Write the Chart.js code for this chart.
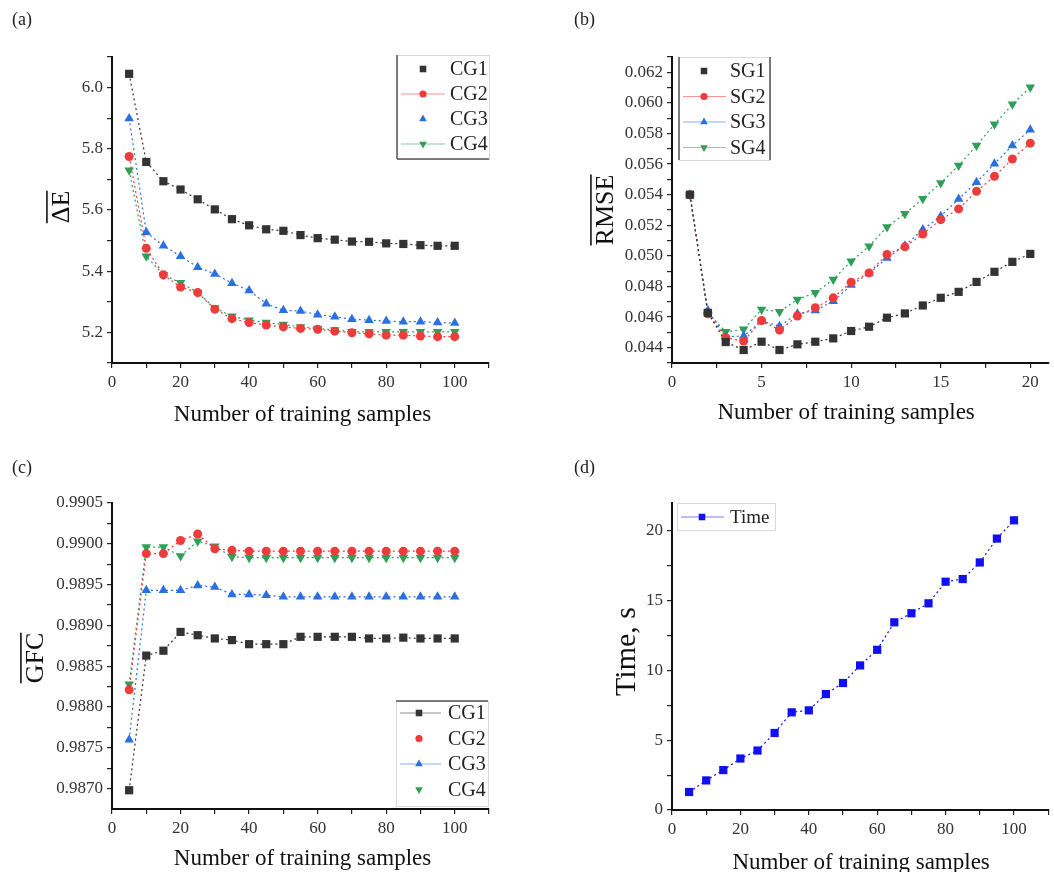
<!DOCTYPE html>
<html>
<head>
<meta charset="utf-8">
<script src="https://cdn.jsdelivr.net/npm/chart.js@4.4.1/dist/chart.umd.min.js"></script>
<style>
html, body { margin: 0; padding: 0; background: #fff; }
#wrap { position: relative; width: 1054px; height: 872px; overflow: hidden; }
.panel { position: absolute; width: 527px; height: 436px; }
</style>
</head>
<body>
<div id="wrap">
  <div class="panel" style="left:0;top:0"><canvas id="chartA" width="527" height="436"></canvas></div>
  <div class="panel" style="left:527px;top:0"><canvas id="chartB" width="527" height="436"></canvas></div>
  <div class="panel" style="left:0;top:436px"><canvas id="chartC" width="527" height="436"></canvas></div>
  <div class="panel" style="left:527px;top:436px"><canvas id="chartD" width="527" height="436"></canvas></div>
</div>
<script>
// ---- data ----
const samples = [5, 10, 15, 20, 25, 30, 35, 40, 45, 50, 55, 60, 65, 70, 75, 80, 85, 90, 95, 100];
const sgSamples = [1, 2, 3, 4, 5, 6, 7, 8, 9, 10, 11, 12, 13, 14, 15, 16, 17, 18, 19, 20];

const cg1DeltaE = [6.045, 5.757, 5.694, 5.667, 5.635, 5.602, 5.570, 5.550, 5.537, 5.532, 5.518, 5.508, 5.503, 5.497, 5.496, 5.491, 5.489, 5.485, 5.483, 5.483];
const cg2DeltaE = [5.775, 5.475, 5.388, 5.348, 5.330, 5.276, 5.245, 5.232, 5.224, 5.218, 5.213, 5.210, 5.204, 5.199, 5.195, 5.191, 5.191, 5.188, 5.186, 5.186];
const cg3DeltaE = [5.899, 5.527, 5.483, 5.449, 5.413, 5.391, 5.361, 5.337, 5.294, 5.272, 5.270, 5.258, 5.251, 5.243, 5.240, 5.237, 5.235, 5.235, 5.232, 5.231];
const cg4DeltaE = [5.730, 5.449, 5.388, 5.362, 5.330, 5.280, 5.253, 5.240, 5.232, 5.226, 5.218, 5.213, 5.208, 5.202, 5.202, 5.202, 5.202, 5.202, 5.202, 5.202];

const sg1Rmse = [0.0540, 0.04628, 0.04437, 0.04385, 0.04439, 0.04385, 0.04422, 0.04439, 0.04461, 0.04509, 0.04537, 0.04596, 0.04624, 0.04676, 0.04726, 0.04765, 0.04830, 0.04896, 0.04961, 0.05013];
const sg2Rmse = [0.0540, 0.04622, 0.04465, 0.04443, 0.04578, 0.04515, 0.04607, 0.04661, 0.04726, 0.04828, 0.04889, 0.05009, 0.05059, 0.05143, 0.05237, 0.05307, 0.05422, 0.05520, 0.05633, 0.05737];
const sg3Rmse = [0.0540, 0.04643, 0.04472, 0.04476, 0.04574, 0.04541, 0.04622, 0.04643, 0.04704, 0.04809, 0.04885, 0.04987, 0.05067, 0.05172, 0.05259, 0.05372, 0.05481, 0.05602, 0.05722, 0.05824];
const sg4Rmse = [0.0540, 0.04628, 0.04504, 0.04520, 0.04650, 0.04635, 0.04715, 0.04759, 0.04846, 0.04965, 0.05063, 0.05189, 0.05276, 0.05374, 0.05476, 0.05591, 0.05722, 0.05861, 0.05991, 0.06102];

const cg1Gfc = [0.98698, 0.98863, 0.98869, 0.98892, 0.98888, 0.98884, 0.98882, 0.98877, 0.98877, 0.98877, 0.98886, 0.98886, 0.98886, 0.98886, 0.98884, 0.98884, 0.98885, 0.98884, 0.98884, 0.98884];
const cg2Gfc = [0.98821, 0.98988, 0.98988, 0.99004, 0.99012, 0.98994, 0.98992, 0.98991, 0.98991, 0.98991, 0.98991, 0.98991, 0.98991, 0.98991, 0.98991, 0.98991, 0.98991, 0.98991, 0.98991, 0.98991];
const cg3Gfc = [0.98760, 0.98943, 0.98943, 0.98943, 0.98949, 0.98947, 0.98938, 0.98938, 0.98937, 0.98935, 0.98935, 0.98935, 0.98935, 0.98935, 0.98935, 0.98935, 0.98935, 0.98935, 0.98935, 0.98935];
const cg4Gfc = [0.98828, 0.98996, 0.98996, 0.98985, 0.99003, 0.98997, 0.98984, 0.98983, 0.98983, 0.98983, 0.98983, 0.98983, 0.98983, 0.98983, 0.98983, 0.98983, 0.98983, 0.98983, 0.98983, 0.98983];

const timeSeconds = [1.29, 2.12, 2.86, 3.69, 4.26, 5.52, 7.00, 7.14, 8.31, 9.10, 10.36, 11.48, 13.45, 14.10, 14.81, 16.36, 16.55, 17.74, 19.45, 20.76];

// tick values (major = labelled, minor = unlabelled)
const xMajor100 = [0, 20, 40, 60, 80, 100];
const xMinor100 = [10, 30, 50, 70, 90, 110];
const xMajor20 = [0, 5, 10, 15, 20];
const xMinor20 = [2.5, 7.5, 12.5, 17.5];
const deltaEMajor = [5.2, 5.4, 5.6, 5.8, 6.0];
const deltaEMinor = [5.1, 5.3, 5.5, 5.7, 5.9, 6.1];
const rmseMajor = [0.044, 0.046, 0.048, 0.050, 0.052, 0.054, 0.056, 0.058, 0.060, 0.062];
const rmseMinor = [0.043, 0.045, 0.047, 0.049, 0.051, 0.053, 0.055, 0.057, 0.059, 0.061, 0.063];
const gfcMajor = [0.9870, 0.9875, 0.9880, 0.9885, 0.9890, 0.9895, 0.9900, 0.9905];
const gfcMinor = [0.98725, 0.98775, 0.98825, 0.98875, 0.98925, 0.98975, 0.99025];
const timeMajor = [0, 5, 10, 15, 20];
const timeMinor = [2.5, 7.5, 12.5, 17.5];

const XTITLE = "Number of training samples";
const SERIF = "'Liberation Serif', 'DejaVu Serif', serif";

const BLACK = "#333333";
const RED = "#ee3b3b";
const BLUE = "#2b70e0";
const GREEN = "#2e9e58";
const PURE_BLUE = "#1010f0";

function pts(xs, ys) {
    return xs.map((x, i) => ({ x: x, y: ys[i] }));
}

function series(label, xs, ys, color, style, legendLine) {
    const tri = style === "down" || style === "up";
    return {
        label: label,
        data: pts(xs, ys),
        borderColor: color,
        backgroundColor: color,
        borderWidth: 1.2,
        borderDash: [2, 3],
        pointStyle: style === "square" ? "rect" : (tri ? "triangle" : "circle"),
        rotation: style === "down" ? 180 : 0,
        pointRadius: style === "square" ? 5.8 : (tri ? 5.5 : 4.5),
        pointBorderWidth: 0,
        legendLine: legendLine,
        clip: false
    };
}

function near(list, v) {
    return list.some(t => Math.abs(t - v) < 1e-9);
}

function axis(min, max, major, minor, digits, size) {
    const all = major.concat(minor).sort((a, b) => a - b);
    return {
        type: "linear",
        min: min,
        max: max,
        afterBuildTicks: s => { s.ticks = all.map(v => ({ value: v })); },
        afterFit: s => {
            if (s.isHorizontal()) s.height = size; else s.width = size;
        },
        ticks: {
            autoSkip: false,
            maxRotation: 0,
            padding: 4,
            color: "#333",
            font: { family: SERIF, size: 17 },
            callback: v => near(major, v) ? v.toFixed(digits) : ""
        },
        grid: {
            drawOnChartArea: false,
            drawTicks: true,
            tickLength: 5,
            color: "#222",
            lineWidth: 1.2
        },
        border: { display: true, color: "#111", width: 2 }
    };
}

// draws panel letter, axis titles (with overline) and legend
const decor = {
    id: "decor",
    afterDraw(chart) {
        const o = chart.options.plugins.decor;
        const ctx = chart.ctx;
        const area = chart.chartArea;
        ctx.save();
        ctx.fillStyle = "#222";
        ctx.font = "18px " + SERIF;
        ctx.textBaseline = "middle";
        ctx.textAlign = "left";
        ctx.fillText(o.tag, o.tagX, o.tagY);

        // x title
        ctx.font = "23px " + SERIF;
        ctx.textAlign = "center";
        ctx.fillStyle = "#111";
        ctx.fillText(XTITLE, (area.left + area.right) / 2 + o.xTitleDx, o.xTitleY);

        // y title
        ctx.save();
        ctx.translate(o.yTitleX, (area.top + area.bottom) / 2 + o.yTitleDy);
        ctx.rotate(-Math.PI / 2);
        ctx.font = o.yFont + "px " + SERIF;
        ctx.fillText(o.yTitle, 0, 0);
        if (o.overline) {
            const w = ctx.measureText(o.yTitle).width;
            ctx.strokeStyle = "#111";
            ctx.lineWidth = 1.6;
            ctx.beginPath();
            ctx.moveTo(-w / 2, -o.yFont * 0.58);
            ctx.lineTo(w / 2, -o.yFont * 0.58);
            ctx.stroke();
        }
        ctx.restore();

        // legend
        const lg = o.legend;
        ctx.fillStyle = "#fff";
        ctx.fillRect(lg.x, lg.y, lg.w, lg.h);
        ctx.strokeStyle = "#d8d8d8";
        ctx.lineWidth = 1;
        ctx.strokeRect(lg.x + 0.5, lg.y + 0.5, lg.w, lg.h);
        ctx.strokeStyle = "#555";
        ctx.lineWidth = 1.5;
        ctx.beginPath();
        lg.dark.forEach(side => {
            if (side === "left") { ctx.moveTo(lg.x, lg.y); ctx.lineTo(lg.x, lg.y + lg.h); }
            if (side === "right") { ctx.moveTo(lg.x + lg.w, lg.y); ctx.lineTo(lg.x + lg.w, lg.y + lg.h); }
            if (side === "top") { ctx.moveTo(lg.x, lg.y); ctx.lineTo(lg.x + lg.w, lg.y); }
            if (side === "bottom") { ctx.moveTo(lg.x, lg.y + lg.h); ctx.lineTo(lg.x + lg.w, lg.y + lg.h); }
        });
        ctx.stroke();

        chart.data.datasets.forEach((ds, i) => {
            const y = lg.y + lg.first + i * lg.gap;
            if (ds.legendLine) {
                ctx.strokeStyle = ds.borderColor;
                ctx.globalAlpha = 0.55;
                ctx.lineWidth = 1.2;
                ctx.beginPath();
                ctx.moveTo(lg.x + 4, y);
                ctx.lineTo(lg.markX + 22, y);
                ctx.stroke();
                ctx.globalAlpha = 1;
            }
            ctx.fillStyle = ds.backgroundColor;
            ctx.strokeStyle = ds.backgroundColor;
            Chart.helpers.drawPoint(ctx, {
                pointStyle: ds.pointStyle,
                rotation: ds.rotation,
                radius: ds.pointRadius * 0.8,
                borderWidth: 0
            }, lg.markX, y);
            ctx.fillStyle = "#222";
            ctx.font = lg.font + "px " + SERIF;
            ctx.textAlign = "left";
            ctx.textBaseline = "middle";
            ctx.fillText(ds.label, lg.textX, y + 1);
        });
        ctx.restore();
    }
};

function makeChart(id, datasets, xScale, yScale, pad, decorOpts) {
    return new Chart(document.getElementById(id), {
        type: "line",
        data: { datasets: datasets },
        options: {
            responsive: false,
            animation: false,
            devicePixelRatio: 1,
            layout: { padding: pad },
            scales: { x: xScale, y: yScale },
            plugins: {
                legend: { display: false },
                tooltip: { enabled: false },
                decor: decorOpts
            }
        },
        plugins: [decor]
    });
}

// (a)
makeChart("chartA",
    [
        series("CG1", samples, cg1DeltaE, BLACK, "square", false),
        series("CG2", samples, cg2DeltaE, RED, "circle", true),
        series("CG3", samples, cg3DeltaE, BLUE, "up", false),
        series("CG4", samples, cg4DeltaE, GREEN, "down", true)
    ],
    axis(0, 110, xMajor100, xMinor100, 0, 73),
    axis(5.1, 6.1, deltaEMajor, deltaEMinor, 1, 112),
    { left: 0, top: 57, right: 38, bottom: 0 },
    {
        tag: "(a)", tagX: 12, tagY: 20,
        xTitleY: 415, xTitleDx: 2,
        yTitle: "\u0394E", yFont: 26, yTitleX: 62, yTitleDy: -3, overline: true,
        legend: { x: 397, y: 55, w: 92, h: 104, dark: ["left", "bottom"], first: 14, gap: 25, markX: 423, textX: 450, font: 20 }
    });

// (b)
makeChart("chartB",
    [
        series("SG1", sgSamples, sg1Rmse, BLACK, "square", false),
        series("SG2", sgSamples, sg2Rmse, RED, "circle", true),
        series("SG3", sgSamples, sg3Rmse, BLUE, "up", true),
        series("SG4", sgSamples, sg4Rmse, GREEN, "down", true)
    ],
    axis(0, 21, xMajor20, xMinor20, 0, 73),
    axis(0.043, 0.063, rmseMajor, rmseMinor, 3, 145),
    { left: 0, top: 57, right: 4, bottom: 0 },
    {
        tag: "(b)", tagX: 47, tagY: 20,
        xTitleY: 413, xTitleDx: -14,
        yTitle: "RMSE", yFont: 26, yTitleX: 79, yTitleDy: 0, overline: true,
        legend: { x: 152, y: 57, w: 91, h: 103, dark: ["left", "right"], first: 14, gap: 25.5, markX: 177, textX: 203, font: 20 }
    });

// (c)
makeChart("chartC",
    [
        series("CG1", samples, cg1Gfc, BLACK, "square", true),
        series("CG2", samples, cg2Gfc, RED, "circle", false),
        series("CG3", samples, cg3Gfc, BLUE, "up", true),
        series("CG4", samples, cg4Gfc, GREEN, "down", false)
    ],
    axis(0, 110, xMajor100, xMinor100, 0, 63),
    axis(0.98675, 0.9905, gfcMajor, gfcMinor, 4, 112),
    { left: 0, top: 67, right: 38, bottom: 0 },
    {
        tag: "(c)", tagX: 12, tagY: 32,
        xTitleY: 423, xTitleDx: 2,
        yTitle: "GFC", yFont: 26, yTitleX: 36, yTitleDy: 2, overline: true,
        legend: { x: 396, y: 265, w: 92, h: 105, dark: ["top"], first: 12, gap: 25.5, markX: 419, textX: 448, font: 20 }
    });

// (d)
makeChart("chartD",
    [
        series("Time", samples, timeSeconds, PURE_BLUE, "square", true)
    ],
    axis(0, 110, xMajor100, xMinor100, 0, 62),
    axis(0, 22, timeMajor, timeMinor, 0, 145),
    { left: 0, top: 67, right: 4, bottom: 0 },
    {
        tag: "(d)", tagX: 47, tagY: 32,
        xTitleY: 427, xTitleDx: 1,
        yTitle: "Time, s", yFont: 30, yTitleX: 100, yTitleDy: -5, overline: false,
        legend: { x: 150, y: 67, w: 98, h: 27, dark: [], first: 14, gap: 25, markX: 175, textX: 203, font: 19 }
    });
</script>
</body>
</html>
